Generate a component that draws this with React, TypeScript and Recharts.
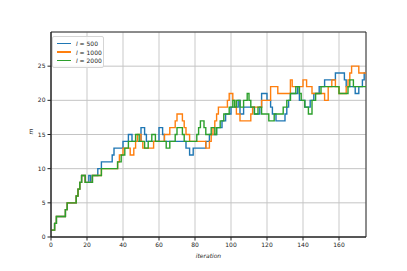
import { LineChart, Line, XAxis, YAxis, CartesianGrid, ReferenceArea } from "recharts";

// values of m per iteration
const l500 = [
  1, 1, 2, 3, 3, 3, 3, 3, 4, 5,
  5, 5, 5, 5, 6, 7, 8, 9, 9, 8,
  8, 9, 8, 9, 9, 9, 10, 10, 11, 11,
  11, 11, 11, 11, 12, 13, 13, 13, 13, 13,
  14, 14, 14, 15, 15, 14, 14, 14, 14, 14,
  16, 16, 15, 14, 14, 14, 14, 14, 14, 14,
  16, 16, 15, 14, 14, 14, 14, 14, 14, 14,
  14, 14, 14, 14, 14, 13, 13, 12, 12, 13,
  13, 13, 13, 13, 13, 13, 14, 14, 15, 15,
  15, 15, 16, 16, 16, 17, 17, 18, 18, 18,
  19, 19, 19, 19, 20, 18, 18, 19, 19, 19,
  19, 19, 19, 18, 18, 18, 19, 21, 21, 21,
  20, 20, 19, 18, 18, 17, 17, 17, 17, 17,
  18, 19, 20, 21, 21, 21, 21, 22, 20, 20,
  20, 19, 19, 19, 20, 20, 21, 21, 21, 22,
  22, 22, 23, 23, 23, 23, 23, 23, 24, 24,
  24, 24, 24, 23, 22, 22, 22, 22, 22, 21,
  21, 22, 22, 23, 24, 24,
];

const l1000 = [
  1, 1, 2, 3, 3, 3, 3, 3, 4, 5,
  5, 5, 5, 5, 6, 7, 8, 9, 9, 8,
  8, 8, 8, 9, 9, 9, 9, 9, 10, 10,
  10, 10, 10, 10, 10, 10, 10, 11, 12, 12,
  13, 13, 13, 13, 12, 12, 13, 14, 15, 15,
  14, 13, 13, 13, 13, 13, 13, 14, 14, 14,
  14, 14, 14, 15, 15, 15, 16, 16, 16, 17,
  18, 18, 18, 17, 16, 15, 15, 14, 14, 14,
  14, 14, 14, 14, 14, 14, 13, 13, 14, 15,
  16, 17, 18, 19, 19, 19, 19, 19, 20, 21,
  21, 20, 19, 18, 18, 17, 17, 17, 17, 17,
  17, 18, 19, 19, 19, 19, 19, 20, 20, 20,
  20, 20, 22, 22, 22, 22, 21, 21, 21, 21,
  21, 21, 21, 23, 22, 22, 22, 22, 22, 22,
  23, 23, 22, 22, 22, 21, 21, 21, 21, 21,
  21, 21, 20, 20, 22, 22, 23, 23, 22, 22,
  21, 21, 21, 21, 22, 23, 24, 25, 25, 25,
  25, 24, 24, 24, 24, 24,
];

const l2000 = [
  1, 1, 2, 3, 3, 3, 3, 3, 4, 5,
  5, 5, 5, 5, 6, 7, 8, 9, 9, 8,
  8, 8, 8, 9, 9, 9, 9, 9, 10, 10,
  10, 10, 10, 10, 10, 10, 10, 11, 11, 12,
  12, 13, 13, 14, 14, 14, 14, 15, 15, 14,
  14, 14, 13, 13, 14, 14, 15, 15, 14, 14,
  14, 14, 14, 14, 13, 13, 14, 14, 14, 15,
  16, 16, 16, 15, 14, 14, 14, 14, 14, 14,
  14, 15, 16, 17, 17, 16, 15, 15, 15, 16,
  16, 15, 16, 16, 17, 17, 18, 18, 18, 19,
  19, 20, 19, 20, 20, 19, 19, 20, 20, 21,
  20, 19, 19, 18, 18, 19, 19, 18, 18, 18,
  18, 17, 17, 17, 18, 18, 18, 18, 18, 19,
  19, 20, 20, 21, 21, 21, 22, 22, 21, 20,
  20, 19, 19, 18, 18, 20, 20, 21, 21, 21,
  22, 22, 22, 22, 22, 22, 22, 22, 22, 22,
  21, 21, 21, 21, 21, 22, 23, 23, 22, 22,
  22, 22, 22, 22, 22, 22,
];

const xTicks = [0, 20, 40, 60, 80, 100, 120, 140, 160];
const yTicks = [0, 5, 10, 15, 20, 25];

const series = [
  { key: "l500", label: "500", color: "#1f77b4" },
  { key: "l1000", label: "1000", color: "#ff7f0e" },
  { key: "l2000", label: "2000", color: "#2ca02c" },
];

const data = l500.map((v, i) => ({
  iteration: i,
  l500: v,
  l1000: l1000[i],
  l2000: l2000[i],
}));

const FONT = "'DejaVu Sans', sans-serif";
const tickStyle = { fontSize: 6, fill: "#222", fontFamily: FONT };

export default function App() {
  return (
    <div style={{ position: "absolute", left: 0, top: 0, width: 407, height: 271, background: "#fff" }}>
      <LineChart
        width={407}
        height={271}
        data={data}
        margin={{ top: 32, right: 41, left: 0, bottom: 0 }}
      >
        {/* vertical grid is lighter and wider than the horizontal one */}
        <CartesianGrid horizontal={false} stroke="#dedede" strokeWidth={1.6} />
        <CartesianGrid vertical={false} stroke="#c4c4c4" strokeWidth={1} />
        <XAxis
          dataKey="iteration"
          type="number"
          domain={[0, 175]}
          ticks={xTicks}
          height={34}
          tick={tickStyle}
          tickSize={3.5}
          tickMargin={2}
          stroke="#222"
          allowDataOverflow
          label={{ value: "iteration", position: "insideBottom", offset: 13, style: { fontSize: 6, fontStyle: "italic", fill: "#222", fontFamily: FONT } }}
        />
        <YAxis
          type="number"
          domain={[0, 30]}
          ticks={yTicks}
          width={51}
          tick={tickStyle}
          tickSize={3.5}
          tickMargin={2}
          stroke="#222"
          label={{ value: "m", angle: -90, position: "insideLeft", offset: 31, style: { fontSize: 6, fontStyle: "italic", fill: "#222", fontFamily: FONT } }}
        />
        <ReferenceArea x1={0} x2={175} y1={0} y2={30} fill="none" stroke="#222" strokeWidth={0.9} />
        {series.map((s) => (
          <Line
            key={s.key}
            dataKey={s.key}
            type="stepAfter"
            stroke={s.color}
            strokeWidth={1.4}
            dot={false}
            isAnimationActive={false}
          />
        ))}
      </LineChart>
      <div
        style={{
          position: "absolute",
          left: 52,
          top: 36,
          width: 50,
          padding: "2px 0 2px 0",
          border: "1px solid #d5d5d5",
          borderRadius: 2,
          background: "rgba(255,255,255,0.8)",
          fontFamily: FONT,
          fontSize: 6,
          color: "#222",
        }}
      >
        {series.map((s) => (
          <div key={s.key} style={{ display: "flex", alignItems: "center", height: 8.7 }}>
            <span style={{ display: "inline-block", width: 14, height: 1.4, background: s.color, marginLeft: 4, marginRight: 5 }} />
            <span>
              <i>l</i> = {s.label}
            </span>
          </div>
        ))}
      </div>
    </div>
  );
}
